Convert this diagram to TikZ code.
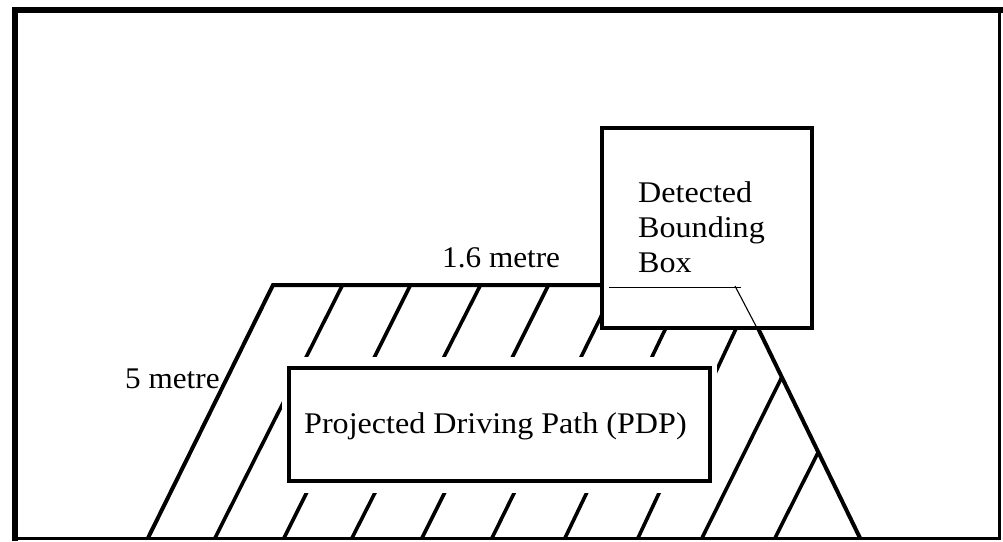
\documentclass[tikz,border=0pt]{standalone}
\usepackage{fontspec}
\setmainfont{Liberation Serif}
\begin{document}
\begin{tikzpicture}[x=1pt,y=-1pt,
  heavy/.style={line width=4pt},
  hatchline/.style={line width=3.6pt, shorten <=-20pt, shorten >=-12pt},
  faint/.style={line width=1.1pt},
  boxline/.style={line width=4.6pt, fill=white},
  lbl/.style={anchor=base west, inner sep=0pt, font=\fontsize{30}{35}\selectfont},
]
\useasboundingbox (0,0) rectangle (1003,541);

% road trapezoid corners
\coordinate (tl) at (273,285);
\coordinate (tr) at (737,285);
\coordinate (br) at (860,538);
\coordinate (bl) at (148,538);

% diagonal hatching inside the road
\begin{scope}
  \clip (tl) -- (tr) -- (br) -- (bl) -- cycle;
  \foreach \xt/\xb in {342/215, 410/284, 480/352, 548/422, 616/492,
                        686/565, 756/638, 827/702, 902/775}
    \draw[hatchline] (\xt,286) -- (\xb,538);
\end{scope}

% white margin around the path label box
\fill[white] (282,357) rectangle (717,493);

% projected driving path box
\draw[boxline] (289,368) rectangle (710,481);

% road edges
\draw[heavy] (tr) -- (tl) -- (bl);
\draw[heavy] (tr) -- (br);

% detected bounding box
\draw[boxline] (602,128) rectangle (812,328);
\coordinate (hidA) at (609,287.5);
\coordinate (hidB) at (741,287.5);
\coordinate (hidC) at (735,286);
\coordinate (hidD) at (757,328);
\draw[faint] (hidA) -- (hidB);
\draw[faint] (hidC) -- (hidD);

% labels
\node[lbl] (width) at (442,267) {\scalebox{1.04}[1]{1.6 metre}};
\node[lbl] (length) at (125,388) {\scalebox{1.04}[1]{5 metre}};
\node[lbl] (pdp) at (304,433) {\scalebox{1.07}[1]{Projected Driving Path (PDP)}};
\node[lbl] (det1) at (638,202) {\scalebox{1.07}[1]{Detected}};
\node[lbl] (det2) at (638,237) {\scalebox{1.07}[1]{Bounding}};
\node[lbl] (det3) at (638,272) {\scalebox{1.07}[1]{Box}};

% outer frame
\draw[line width=5.5pt] (15,541) -- (15,10) -- (1003,10);
\draw[line width=2.6pt] (999.5,10) -- (999.5,538.5) -- (15,538.5);
\end{tikzpicture}
\end{document}
